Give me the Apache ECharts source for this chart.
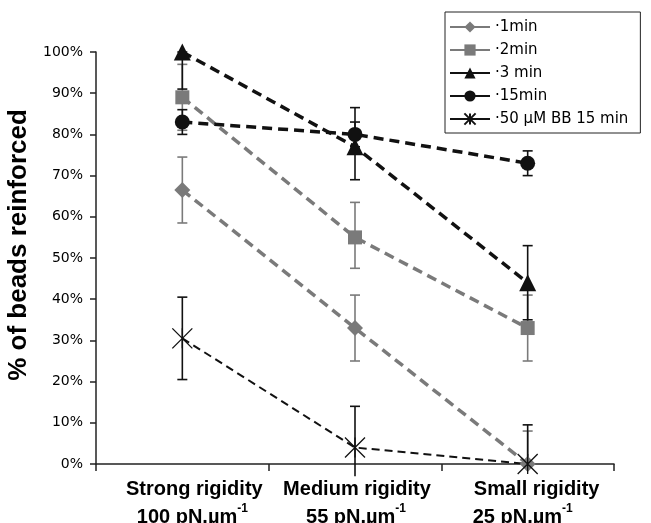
<!DOCTYPE html>
<html>
<head>
<meta charset="utf-8">
<script src="https://cdn.jsdelivr.net/npm/echarts@6/dist/echarts.min.js"></script>
<style>
  html, body { margin: 0; padding: 0; background: #fff; }
  #chart { width: 651px; height: 523px; }
</style>
</head>
<body>
<div id="chart"></div>
<script>
const categories = ['Strong rigidity', 'Medium rigidity', 'Small rigidity']
const stiffness = ['100', '55', '25']

const seriesNames = ['1min', '2min', '3 min', '15min', '50 µM BB 15 min']

// mean values (%)
const oneMin = [66.5, 33, 0]
const twoMin = [89, 55, 33]
const threeMin = [100, 77, 44]
const fifteenMin = [83, 80, 73]
const blebbistatin = [30.5, 4, 0]

// error bar ends (%)
const oneMinLow = [58.5, 25, 0]
const oneMinHigh = [74.5, 41, 8]
const twoMinLow = [81, 47.5, 25]
const twoMinHigh = [97, 63.5, 41]
const threeMinLow = [91, 69, 35]
const threeMinHigh = [100, 86.5, 53]
const fifteenMinLow = [80, 77, 70]
const fifteenMinHigh = [86, 83, 76]
const bbLow = [20.5, -3, 0]
const bbHigh = [40.5, 14, 9.5]

const yTicks = [0, 10, 20, 30, 40, 50, 60, 70, 80, 90, 100]

const GRAY = '#7a7a7a'
const BLACK = '#111111'
const starPath = 'path://M0,0L20,20M20,0L0,20M10,0L10,20'

function errorSeries(low, high, color) {
  return {
    type: 'custom',
    silent: true,
    z: 1,
    data: low.map((l, i) => [i, l, high[i]]),
    encode: { x: 0, y: [1, 2] },
    renderItem: function (params, api) {
      const i = api.value(0)
      const lo = api.value(1)
      const hi = api.value(2)
      const p1 = api.coord([i, lo])
      const p2 = api.coord([i, hi])
      const style = { stroke: color, lineWidth: 1.6 }
      const children = [
        { type: 'line', shape: { x1: p1[0], y1: p1[1], x2: p2[0], y2: p2[1] }, style: style }
      ]
      ;[[lo, p1], [hi, p2]].forEach(function (e) {
        if (e[0] >= 0 && e[0] <= 100) {
          children.push({
            type: 'line',
            shape: { x1: e[1][0] - 5, y1: e[1][1], x2: e[1][0] + 5, y2: e[1][1] },
            style: style
          })
        }
      })
      return { type: 'group', children: children }
    }
  }
}

function lineSeries(name, data, color, symbol, size, width, dash) {
  return {
    name: name,
    type: 'line',
    data: data,
    z: 3,
    clip: false,
    symbol: symbol,
    symbolSize: size,
    lineStyle: { color: color, width: width, type: dash },
    itemStyle: { color: color }
  }
}

// label styles: the original's labels are not quite centred on their categories
const labelFont = { fontFamily: 'Liberation Sans', fontWeight: 'bold', fontSize: 20, color: '#000', lineHeight: 28 }
const supFont = { fontFamily: 'Liberation Sans', fontWeight: 'bold', fontSize: 12, color: '#000', lineHeight: 28, verticalAlign: 'top' }
const labelPads = [[24, 20, 0], [4, 2, 0], [18, 0, 10]]
const rich = {}
labelPads.forEach(function (p, i) {
  rich['a' + i] = Object.assign({}, labelFont, { padding: [0, 0, 0, p[0]] })
  rich['b' + i] = Object.assign({}, labelFont, { padding: [0, 0, 0, p[1]] })
  rich['s' + i] = Object.assign({}, supFont, { padding: [0, p[2], 9, 0] })
})

const option = {
  animation: false,
  backgroundColor: '#fff',
  grid: { left: 96, right: 37, top: 52, bottom: 59, outerBoundsMode: 'none', containLabel: false },
  legend: {
    orient: 'vertical',
    left: 445,
    top: 12,
    padding: [6, 12, 5, 4],
    itemGap: 5,
    itemWidth: 40,
    itemHeight: 14,
    borderColor: '#222',
    borderWidth: 1,
    borderRadius: 0,
    backgroundColor: '#fff',
    data: seriesNames,
    lineStyle: { type: 'solid', width: 2 },
    formatter: name => '·' + name,
    textStyle: { color: '#000', fontFamily: 'DejaVu Sans', fontSize: 15, lineHeight: 18 }
  },
  xAxis: {
    type: 'category',
    data: categories,
    boundaryGap: true,
    axisLine: { lineStyle: { color: '#222', width: 1.5 } },
    axisTick: { show: true, length: 7, lineStyle: { color: '#222', width: 1.5 } },
    axisLabel: {
      margin: 11,
      interval: 0,
      formatter: function (value, index) {
        return '{a' + index + '|' + value + '}\n{b' + index + '|' + stiffness[index] + ' pN.µm}{s' + index + '|-1}'
      },
      rich: rich
    }
  },
  yAxis: {
    type: 'value',
    min: yTicks[0],
    max: yTicks[yTicks.length - 1],
    interval: 10,
    name: '% of beads reinforced',
    nameLocation: 'middle',
    nameGap: 63,
    nameTextStyle: { fontFamily: 'Liberation Sans', fontWeight: 'bold', fontSize: 26, color: '#000', padding: [0, 0, 0, 26] },
    splitLine: { show: false },
    axisLine: { show: true, lineStyle: { color: '#222', width: 1.5 } },
    axisTick: { show: true, length: 6, lineStyle: { color: '#222', width: 1.5 } },
    axisLabel: {
      margin: 13,
      formatter: '{value}%',
      fontFamily: 'DejaVu Sans',
      fontSize: 14,
      color: '#000'
    }
  },
  series: [
    errorSeries(oneMinLow, oneMinHigh, GRAY),
    errorSeries(twoMinLow, twoMinHigh, GRAY),
    errorSeries(threeMinLow, threeMinHigh, BLACK),
    errorSeries(fifteenMinLow, fifteenMinHigh, BLACK),
    errorSeries(bbLow, bbHigh, BLACK),
    lineSeries(seriesNames[0], oneMin, GRAY, 'diamond', 16, 3.5, [10, 6]),
    lineSeries(seriesNames[1], twoMin, GRAY, 'rect', 14, 3.5, [10, 6]),
    lineSeries(seriesNames[2], threeMin, BLACK, 'triangle', 17, 3.5, [10, 6]),
    lineSeries(seriesNames[3], fifteenMin, BLACK, 'circle', 15, 3.5, [10, 6]),
    {
      name: seriesNames[4],
      type: 'line',
      data: blebbistatin,
      z: 3,
      clip: false,
      symbol: starPath,
      symbolSize: 20,
      lineStyle: { color: BLACK, width: 2, type: [8, 5] },
      itemStyle: { color: 'none', borderColor: BLACK, borderWidth: 1.3 }
    }
  ]
}

const chart = echarts.init(document.getElementById('chart'))
chart.setOption(option)
</script>
</body>
</html>
